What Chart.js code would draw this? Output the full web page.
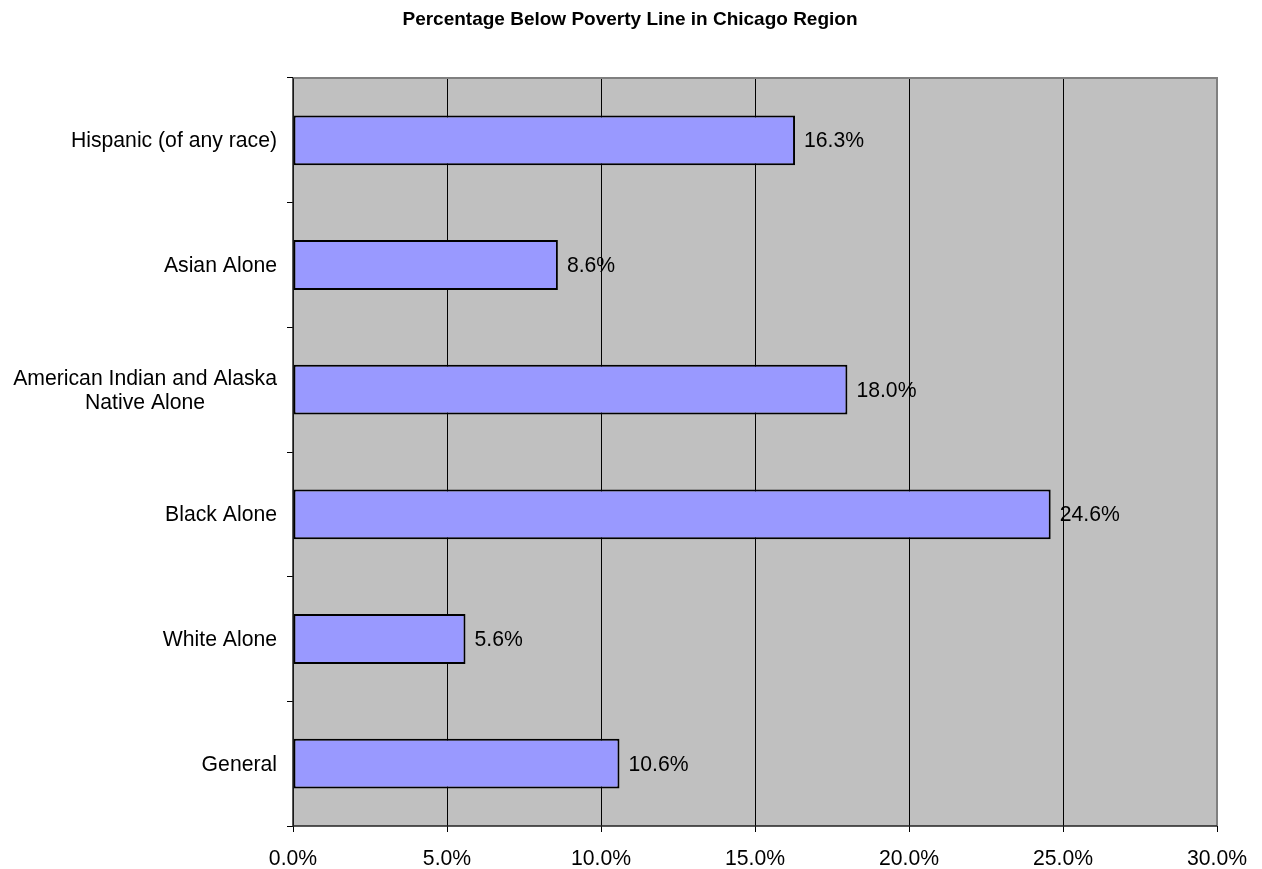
<!DOCTYPE html>
<html><head><meta charset="utf-8">
<script src="https://cdn.jsdelivr.net/npm/chart.js@4/dist/chart.umd.min.js"></script>
<style>html,body{margin:0;padding:0;background:#fff}#wrap{width:1262px;height:869px}</style>
</head><body><div id="wrap"><canvas id="c" width="1262" height="869"></canvas></div>
<script>
const titleText = 'Percentage Below Poverty Line in Chicago Region';
const categories = [['Hispanic (of any race)'], ['Asian Alone'], ['American Indian and Alaska', 'Native Alone'], ['Black Alone'], ['White Alone'], ['General']];
const values = [16.3, 8.6, 18.0, 24.6, 5.6, 10.6];
const xTicks = [0, 5, 10, 15, 20, 25, 30];

const FONT = 'Liberation Sans, Arial, sans-serif';
const FS = 21.2;

const deco = {
  id: 'deco',
  beforeDraw(chart) {
    const {ctx, chartArea: a} = chart;
    ctx.save();
    ctx.fillStyle = '#fff';
    ctx.fillRect(0, 0, chart.width, chart.height);
    ctx.fillStyle = '#C0C0C0';
    ctx.fillRect(a.left, a.top, a.right - a.left, a.bottom - a.top);
    ctx.restore();
  },
  afterDatasetsDraw(chart) {
    const {ctx, chartArea: a, scales} = chart;
    ctx.save();
    ctx.strokeStyle = '#808080';
    ctx.lineWidth = 2;
    ctx.beginPath();
    ctx.moveTo(a.left, a.top); ctx.lineTo(a.right, a.top); ctx.lineTo(a.right, a.bottom);
    ctx.stroke();
    ctx.strokeStyle = '#222';
    ctx.lineWidth = 1.5;
    ctx.beginPath();
    ctx.moveTo(a.left, a.top); ctx.lineTo(a.left, a.bottom); ctx.lineTo(a.right, a.bottom);
    ctx.stroke();
    // data labels
    const meta = chart.getDatasetMeta(0);
    ctx.fillStyle = '#000';
    ctx.font = FS + 'px ' + FONT;
    ctx.textAlign = 'left';
    ctx.textBaseline = 'middle';
    meta.data.forEach((bar, i) => {
      ctx.fillText(values[i].toFixed(1) + '%', bar.x + 9, bar.y + 1);
    });
    // category labels
    const y = scales.y;
    categories.forEach((lines, i) => {
      const cy = y.getPixelForValue(i);
      let w = 0;
      lines.forEach(l => { w = Math.max(w, ctx.measureText(l).width); });
      const cx = a.left - 16 - w / 2;
      ctx.textAlign = 'center';
      const lh = 24;
      const start = cy - (lines.length - 1) * lh / 2 + 1;
      lines.forEach((l, k) => ctx.fillText(l, cx, start + k * lh));
    });
    // title
    ctx.font = 'bold 19px ' + FONT;
    ctx.textAlign = 'center';
    ctx.fillText(titleText, 630, 20);
    ctx.restore();
  }
};

new Chart(document.getElementById('c'), {
  type: 'bar',
  data: {
    labels: categories,
    datasets: [{
      data: values,
      backgroundColor: '#9999FF',
      borderColor: '#000',
      borderWidth: 2,
      borderSkipped: false,
      categoryPercentage: 1,
      barPercentage: 0.4
    }]
  },
  options: {
    indexAxis: 'y',
    responsive: false,
    animation: false,
    devicePixelRatio: 1,
    layout: {padding: {left: 0, top: 78, right: 45, bottom: 0}},
    plugins: {legend: {display: false}, title: {display: false}, tooltip: {enabled: false}},
    scales: {
      x: {
        min: 0, max: 30,
        afterBuildTicks(s) { s.ticks = xTicks.map(v => ({value: v})); },
        afterFit(s) { s.height = 43; },
        border: {display: false},
        grid: {color: '#000', lineWidth: 1, tickLength: 6, drawOnChartArea: true},
        ticks: {
          color: '#000', font: {size: FS, family: FONT}, padding: 14, maxRotation: 0,
          callback: v => Number(v).toFixed(1) + '%'
        }
      },
      y: {
        afterFit(s) { s.width = 293; },
        border: {display: false},
        grid: {offset: true, drawOnChartArea: false, tickLength: 6, color: '#000'},
        ticks: {display: false}
      }
    }
  },
  plugins: [deco]
});
</script></body></html>
